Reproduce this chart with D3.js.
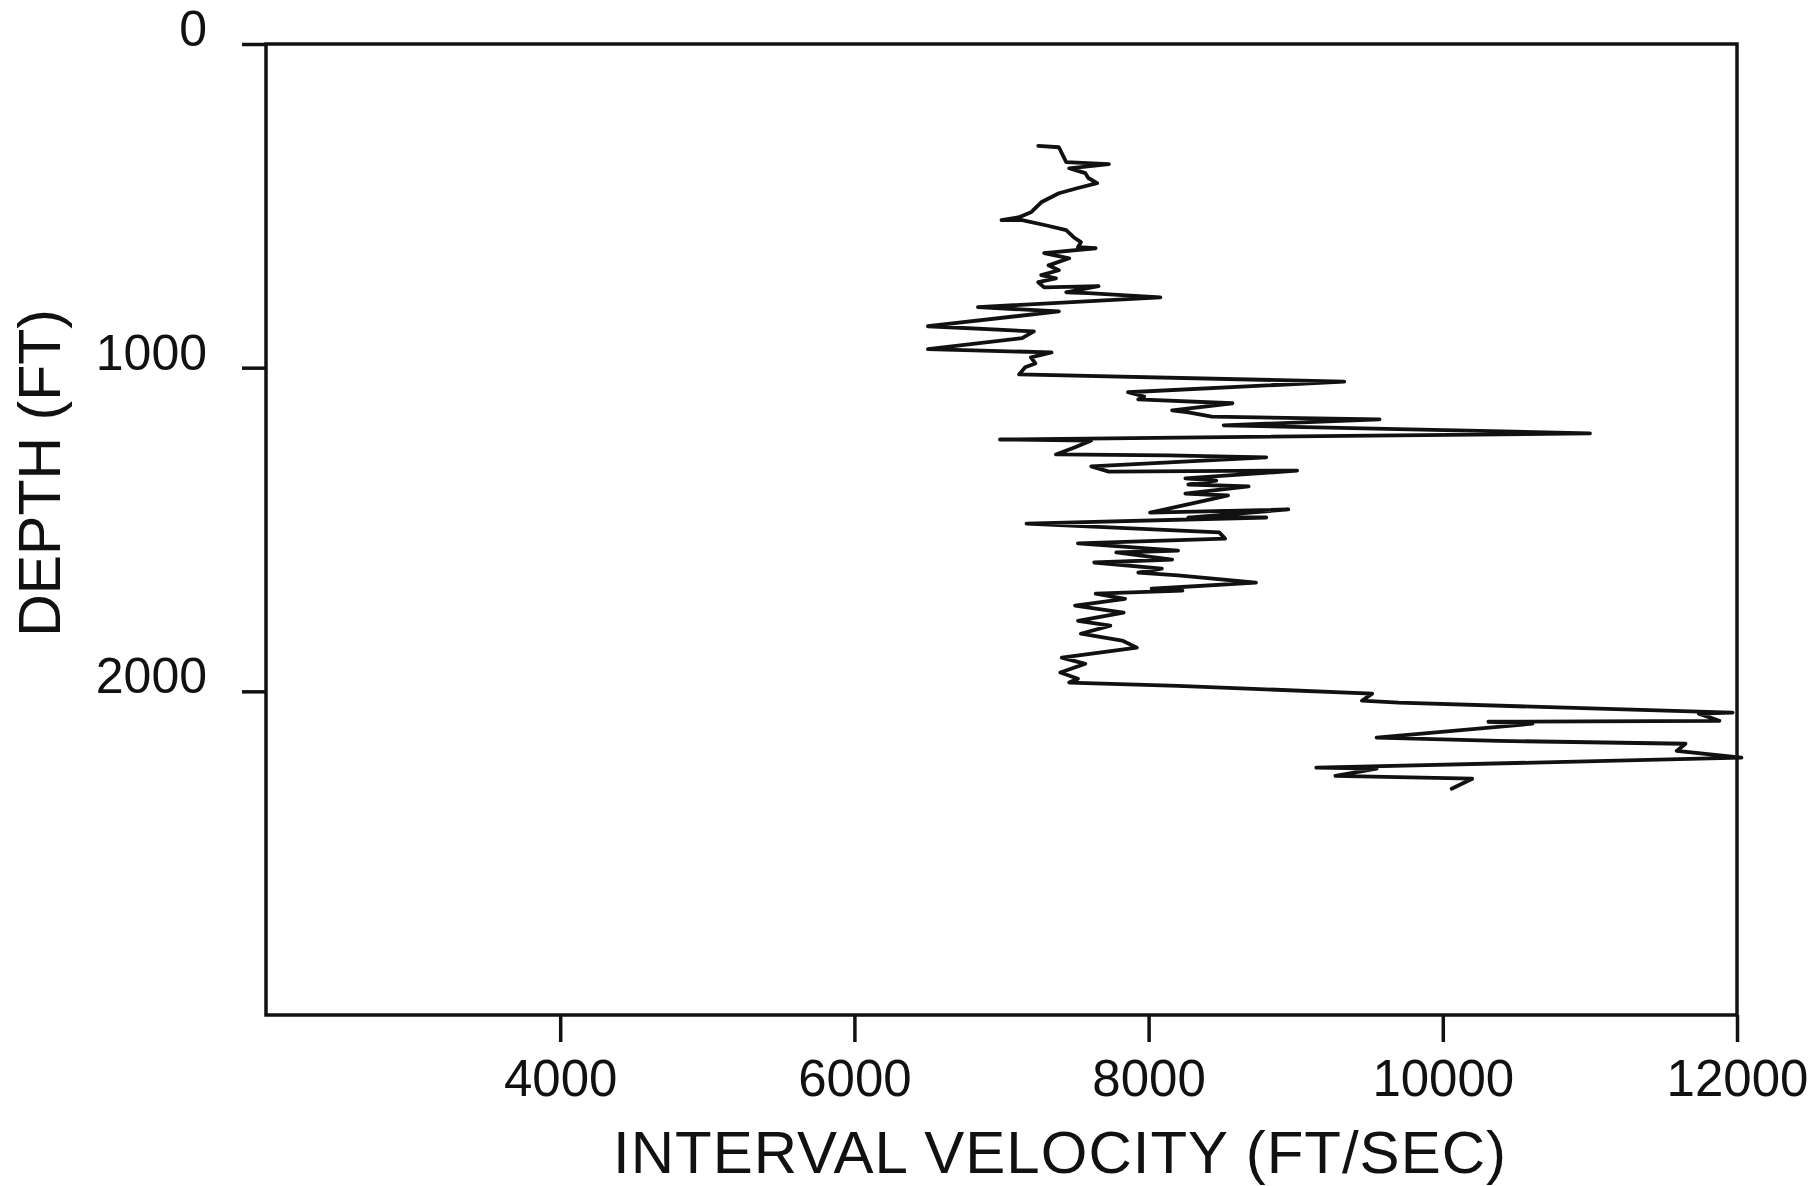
<!DOCTYPE html>
<html>
<head>
<meta charset="utf-8">
<script src="https://cdn.jsdelivr.net/npm/d3@7"></script>
<style>
  body { margin: 0; background: #fff; }
  text { font-family: "Liberation Sans", Arial, Helvetica, sans-serif; fill: #111; }
</style>
</head>
<body>
<div id="chart-div"></div>
<script>
// interval velocity log (top of hole downwards)
const velocityTicks = [4000, 6000, 8000, 10000, 12000];
const depthTicks = [0, 1000, 2000];

const velocity = [
  7250, 7390, 7440, 7730, 7460, 7570, 7590, 7650, 7520, 7390,
  7270, 7200, 7120, 7000, 7140, 7300, 7440, 7490, 7540, 7520,
  7640, 7290, 7460, 7320, 7390, 7270, 7370, 7250, 7290, 7660,
  7440, 7590, 8080, 6840, 7390, 6500, 7220, 7140, 6500, 7340,
  7200, 7230, 7160, 7120, 9330, 7860, 7970, 7930, 8570, 8160,
  8270, 8430, 9570, 8510, 11000, 6990, 7610, 7500, 7370, 8140,
  8800, 7610, 7730, 9010, 8250, 8460, 8270, 8680, 8250, 8540,
  8390, 8010, 8950, 8270, 8800, 7170, 8480, 8520, 7520, 8200,
  7780, 8160, 7630, 8090, 7930, 8200, 8730, 8020, 8230, 7640,
  7840, 7500, 7830, 7520, 7740, 7540, 7820, 7920, 7410, 7570,
  7400, 7520, 7460, 8200, 9520, 9450, 9700, 11970, 11740, 11880,
  10310, 10610, 9550, 10380, 11650, 11590, 12030, 9140, 9550, 9270,
  10200, 10060
];
const depth = [
  315, 319, 365, 371, 384, 399, 414, 430, 445, 461,
  489, 520, 535, 544, 544, 560, 575, 597, 612, 628,
  631, 646, 662, 684, 699, 714, 724, 736, 752, 748,
  767, 770, 783, 813, 826, 872, 888, 909, 943, 953,
  968, 987, 999, 1021, 1043, 1076, 1089, 1098, 1110, 1132,
  1138, 1151, 1160, 1178, 1203, 1222, 1225, 1246, 1268, 1271,
  1277, 1305, 1321, 1318, 1342, 1349, 1361, 1367, 1389, 1395,
  1410, 1448, 1438, 1463, 1463, 1482, 1509, 1528, 1543, 1565,
  1571, 1593, 1602, 1621, 1633, 1642, 1664, 1683, 1689, 1698,
  1714, 1735, 1757, 1782, 1797, 1822, 1843, 1865, 1896, 1915,
  1942, 1961, 1973, 1983, 2007, 2029, 2035, 2066, 2069, 2091,
  2094, 2100, 2143, 2153, 2162, 2184, 2205, 2236, 2239, 2261,
  2270, 2301
];

const svgWidth = 1817;
const svgHeight = 1186;
const plotLeft = 266, plotRight = 1737, plotTop = 44, plotBottom = 1015;

console.log("points =", velocity.length, depth.length);

const logData = velocity.map((v, i) => ({ v: v, d: depth[i] }));

const xVel = d3.scaleLinear()
  .domain([2000, 12000])
  .range([plotLeft, plotRight]);

const yDepth = d3.scaleLinear()
  .domain([0, 3000])
  .range([plotTop, plotBottom]);

const svg = d3.select("#chart-div")
  .append("svg")
  .attr("width", svgWidth)
  .attr("height", svgHeight)
  .style("background", "#fff");

// frame around the plot
svg.append("rect")
  .attr("x", plotLeft)
  .attr("y", plotTop)
  .attr("width", plotRight - plotLeft)
  .attr("height", plotBottom - plotTop)
  .style("fill", "none")
  .style("stroke", "#111")
  .style("stroke-width", 3.5);

// velocity axis (bottom)
const xAxisG = svg.append("g")
  .attr("transform", `translate(0,${plotBottom})`)
  .call(d3.axisBottom(xVel).tickValues(velocityTicks).tickSize(27).tickSizeOuter(0).tickFormat(d3.format("d")));
xAxisG.select(".domain").remove();
xAxisG.selectAll("line").style("stroke", "#111").style("stroke-width", 3.5);
xAxisG.selectAll("text")
  .attr("y", 81)
  .attr("dy", 0)
  .style("font-size", "51px")
  .style("font-family", "'Liberation Sans', Arial, sans-serif")
  .style("fill", "#111");

// depth axis (left)
const yAxisG = svg.append("g")
  .attr("transform", `translate(${plotLeft},0)`)
  .call(d3.axisLeft(yDepth).tickValues(depthTicks).tickSize(24).tickPadding(35).tickSizeOuter(0).tickFormat(d3.format("d")));
yAxisG.select(".domain").remove();
yAxisG.selectAll("line").style("stroke", "#111").style("stroke-width", 3.5);
yAxisG.selectAll("text")
  .attr("dy", "0.03em")
  .style("font-size", "50px")
  .style("font-family", "'Liberation Sans', Arial, sans-serif")
  .style("fill", "#111");

// the log trace
const traceLine = d3.line()
  .x(d => xVel(d.v))
  .y(d => yDepth(d.d));

svg.append("path")
  .datum(logData)
  .attr("d", traceLine)
  .style("fill", "none")
  .style("stroke", "#111")
  .style("stroke-width", 3.8)
  .style("stroke-linejoin", "round")
  .style("stroke-linecap", "round");

// axis titles
svg.append("text")
  .attr("x", 1060)
  .attr("y", 1173)
  .attr("text-anchor", "middle")
  .style("font-size", "60px")
  .style("letter-spacing", "1px")
  .text("INTERVAL VELOCITY (FT/SEC)");

svg.append("text")
  .attr("transform", "translate(60,473) rotate(-90)")
  .attr("text-anchor", "middle")
  .style("font-size", "59px")
  .text("DEPTH (FT)");
</script>
</body>
</html>
